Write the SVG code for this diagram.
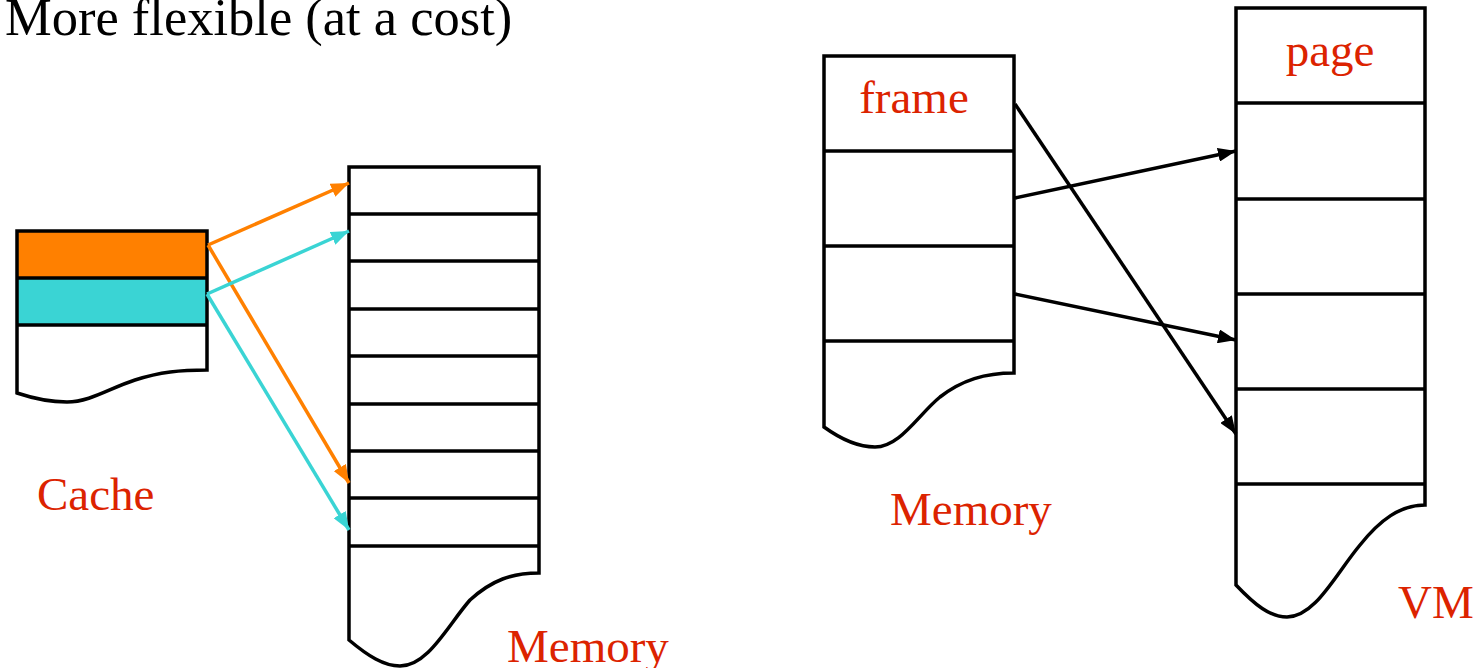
<svg xmlns="http://www.w3.org/2000/svg" width="1478" height="668" viewBox="0 0 1478 668">
<style>
.box{fill:none;stroke:#000;stroke-width:3.5;stroke-linejoin:miter}
.sep{stroke:#000;stroke-width:3.5}
.lbl{font-family:"Liberation Serif","Times New Roman",serif;font-size:47px;fill:#dc2300}
.title{font-family:"Liberation Serif","Times New Roman",serif;font-size:52.5px;fill:#000}
.c-or{stroke:#ff8000;stroke-width:3.5;fill:none}
.c-cy{stroke:#3ad4d4;stroke-width:3.5;fill:none}
.c-bk{stroke:#000;stroke-width:3.5;fill:none}
</style>
<defs>
<marker id="aO" markerUnits="userSpaceOnUse" markerWidth="19" markerHeight="14" refX="18" refY="7" orient="auto"><path d="M0,0 L18,7 L0,14 z" fill="#ff8000"/></marker>
<marker id="aC" markerUnits="userSpaceOnUse" markerWidth="19" markerHeight="14" refX="18" refY="7" orient="auto"><path d="M0,0 L18,7 L0,14 z" fill="#3ad4d4"/></marker>
<marker id="aB" markerUnits="userSpaceOnUse" markerWidth="19" markerHeight="14" refX="18" refY="7" orient="auto"><path d="M0,0 L18,7 L0,14 z" fill="#000"/></marker>
</defs>
<rect width="1478" height="668" fill="#fff"/>
<text class="title" x="5" y="35">More flexible (at a cost)</text>

<g id="cache">
<rect x="17" y="231" width="190" height="47" fill="#ff8000"/>
<rect x="17" y="278" width="190" height="47" fill="#3ad4d4"/>
<path class="box" d="M17,231 H207 V370 C180,370 160,372 135,380 C110,388 90,402 67,402 C50,402 35,399 17,393 Z"/>
<line class="sep" x1="17" y1="278" x2="207" y2="278"/>
<line class="sep" x1="17" y1="325" x2="207" y2="325"/>
<text class="lbl" x="37" y="510">Cache</text>
</g>

<g id="memory-left">
<path class="box" d="M349,167 H539 V573 C512,573 492,580 470,600 C448,625 428,666 400,666 C384,666 368,656 349,640 Z"/>
<line class="sep" x1="349" y1="214" x2="539" y2="214"/>
<line class="sep" x1="349" y1="261" x2="539" y2="261"/>
<line class="sep" x1="349" y1="309" x2="539" y2="309"/>
<line class="sep" x1="349" y1="356" x2="539" y2="356"/>
<line class="sep" x1="349" y1="404" x2="539" y2="404"/>
<line class="sep" x1="349" y1="451" x2="539" y2="451"/>
<line class="sep" x1="349" y1="498" x2="539" y2="498"/>
<line class="sep" x1="349" y1="546" x2="539" y2="546"/>
<text class="lbl" x="507" y="662">Memory</text>
</g>

<g id="memory-right">
<path class="box" d="M824,56 H1014 V373 C985,373 962,380 940,397 C918,415 900,447 875,447 C858,447 842,440 824,427 Z"/>
<line class="sep" x1="824" y1="151" x2="1014" y2="151"/>
<line class="sep" x1="824" y1="246" x2="1014" y2="246"/>
<line class="sep" x1="824" y1="341" x2="1014" y2="341"/>
<text class="lbl" x="914" y="113" text-anchor="middle">frame</text>
<text class="lbl" x="890" y="525">Memory</text>
</g>

<g id="vm">
<path class="box" d="M1236,8 H1425 V505 C1400,505 1380,520 1360,545 C1335,575 1315,617 1287,617 C1270,617 1255,605 1236,585 Z"/>
<line class="sep" x1="1236" y1="103" x2="1425" y2="103"/>
<line class="sep" x1="1236" y1="199" x2="1425" y2="199"/>
<line class="sep" x1="1236" y1="294" x2="1425" y2="294"/>
<line class="sep" x1="1236" y1="389" x2="1425" y2="389"/>
<line class="sep" x1="1236" y1="484" x2="1425" y2="484"/>
<text class="lbl" x="1330" y="66" text-anchor="middle">page</text>
<text class="lbl" x="1398" y="618">VM</text>
</g>

<g id="connectors">
<line class="c-or" x1="208" y1="245" x2="349" y2="183" marker-end="url(#aO)"/>
<line class="c-or" x1="208" y1="245" x2="349" y2="483" marker-end="url(#aO)"/>
<line class="c-cy" x1="207" y1="294" x2="349" y2="231" marker-end="url(#aC)"/>
<line class="c-cy" x1="207" y1="294" x2="349" y2="530" marker-end="url(#aC)"/>
<line class="c-bk" x1="1015" y1="104" x2="1236" y2="434" marker-end="url(#aB)"/>
<line class="c-bk" x1="1015" y1="198" x2="1236" y2="151" marker-end="url(#aB)"/>
<line class="c-bk" x1="1015" y1="294" x2="1236" y2="340" marker-end="url(#aB)"/>
</g>
</svg>
